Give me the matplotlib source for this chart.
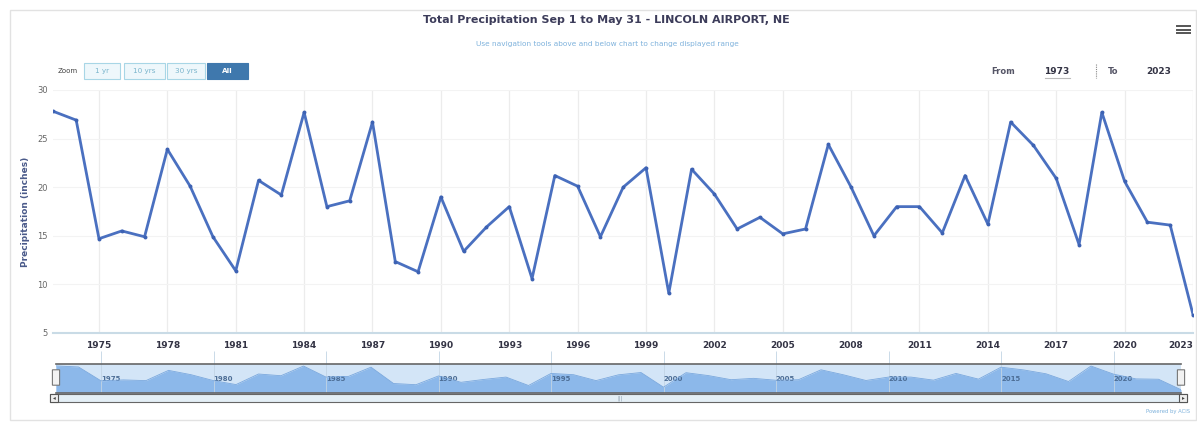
import matplotlib
matplotlib.use("Agg")
import matplotlib.pyplot as plt
from matplotlib.patches import Rectangle, FancyBboxPatch
import numpy as np

years = list(range(1973, 2024))
precip = [27.8, 26.9, 14.7, 15.5, 14.9, 23.9, 20.1, 14.9, 11.4, 20.7,
          19.2, 27.7, 18.0, 18.6, 26.7, 12.35, 11.3, 19.0, 13.4, 15.9,
          18.0, 10.6, 21.2, 20.1, 14.9, 20.0, 22.0, 9.1, 21.85, 19.3,
          15.7, 16.9, 15.2, 15.7, 24.4, 20.0, 15.0, 18.0, 18.0, 15.3,
          21.2, 16.2, 26.7, 24.3, 20.9, 14.1, 27.7, 20.6, 16.4, 16.1, 6.9]
x_ticks = list(range(1975, 2024, 3))
y_ticks = [5, 10, 15, 20, 25, 30]
nav_ticks = list(range(1975, 2021, 5))
buttons = ["1 yr", "10 yrs", "30 yrs", "All"]

title = "Total Precipitation Sep 1 to May 31 - LINCOLN AIRPORT, NE"
subtitle = "Use navigation tools above and below chart to change displayed range"

W, H = 1197, 424
fig = plt.figure(figsize=(W / 100, H / 100), dpi=100)
fig.patch.set_facecolor("white")

def fx(px):
    return px / W

def fy(py):
    return 1 - py / H

# outer border
fig.patches.append(Rectangle((fx(10), fy(420)), fx(1196) - fx(10), fy(10) - fy(420),
                             transform=fig.transFigure, fill=False,
                             edgecolor="#e2e2e2", linewidth=1.0))

# main axes
ax = fig.add_axes([fx(53.4), fy(333), fx(1193) - fx(53.4), fy(90) - fy(333)])
ax.plot(years, precip, color="#4a70c0", linewidth=2.0, marker="o", markersize=2.8,
        markerfacecolor="#3d62b3", markeredgewidth=0, zorder=3)
ax.set_xlim(1973, 2023)
ax.set_ylim(5, 30)
ax.set_xticks(x_ticks)
ax.set_xticklabels([str(t) for t in x_ticks], fontsize=6.5, color="#333344", fontweight="bold")
xl = ax.get_xticklabels()
xl[-1].set_horizontalalignment("right")
ax.set_yticks(y_ticks)
ax.set_yticklabels([str(t) for t in y_ticks], fontsize=6, color="#666666")
ax.tick_params(axis="x", length=0, pad=6)
ax.tick_params(axis="y", length=0, pad=4)
ax.grid(axis="x", color="#ececec", linewidth=0.9)
ax.grid(axis="y", color="#f3f3f3", linewidth=0.8)
for s in ["top", "right", "left"]:
    ax.spines[s].set_visible(False)
ax.spines["bottom"].set_color("#c9dbe6")
ax.spines["bottom"].set_linewidth(1.5)
ax.set_ylabel("Precipitation (inches)", fontsize=6.5, color="#4a5a8a", fontweight="bold")
ax.yaxis.set_label_coords((30 - 53.4) / (1193 - 53.4), 0.5)

# title & subtitle
fig.text(fx(606), fy(20), title, ha="center", va="center", fontsize=8.0,
         color="#3c3c5a", fontweight="semibold")
fig.text(fx(607), fy(44), subtitle, ha="center", va="center", fontsize=5.3, color="#7fb2dc")

# hamburger
for yy in (26, 29.5, 33):
    fig.add_artist(plt.Line2D([fx(1177), fx(1190)], [fy(yy), fy(yy)], color="#555555",
                              linewidth=1.4, transform=fig.transFigure))

# range selector
fig.text(fx(68), fy(71), "Zoom", ha="center", va="center", fontsize=5, color="#444444")
btn_x = [(84, 120), (124, 165), (167, 205), (207, 248)]
for (x0, x1), lab in zip(btn_x, buttons):
    active = lab == "All"
    fig.patches.append(Rectangle((fx(x0), fy(79)), fx(x1) - fx(x0), fy(63) - fy(79),
                                 transform=fig.transFigure,
                                 facecolor="#3f78ad" if active else "#eef7fb",
                                 edgecolor="#3f78ad" if active else "#a8d6e6",
                                 linewidth=0.8))
    fig.text(fx((x0 + x1) / 2), fy(71), lab, ha="center", va="center", fontsize=5.2,
             color="white" if active else "#7ab5cc", fontweight="bold" if active else "normal")

# From / To
fig.text(fx(1003), fy(71), "From", ha="center", va="center", fontsize=6, color="#555566", fontweight="bold")
fig.text(fx(1057), fy(71), "1973", ha="center", va="center", fontsize=6.5, color="#333344", fontweight="bold")
fig.add_artist(plt.Line2D([fx(1045), fx(1070)], [fy(78), fy(78)], color="#bbbbbb",
                          linewidth=0.8, transform=fig.transFigure))
fig.add_artist(plt.Line2D([fx(1096), fx(1096)], [fy(64), fy(78)], color="#888888",
                          linewidth=0.8, linestyle=(0, (1, 1)), transform=fig.transFigure))
fig.text(fx(1113), fy(71), "To", ha="center", va="center", fontsize=6, color="#555566", fontweight="bold")
fig.text(fx(1159), fy(71), "2023", ha="center", va="center", fontsize=6.5, color="#333344", fontweight="bold")

# navigator
nav = fig.add_axes([fx(56), fy(393), fx(1181) - fx(56), fy(364) - fy(393)])
nav.set_facecolor("#d3e5f7")
nav.fill_between(years, precip, 4.0, color="#8cb8ea", linewidth=0)
nav.plot(years, precip, color="#7aa8de", linewidth=0.6)
nav.set_xlim(1973, 2023)
nav.set_ylim(4.0, 29.5)
nav.set_yticks([])
nav.set_xticks(nav_ticks)
nav.set_xticklabels([str(t) for t in nav_ticks], fontsize=5, color="#4d6e96", fontweight="bold")
nav.tick_params(axis="x", direction="in", length=30, color="#c2d4e4", width=0.6, pad=-12)
for lab in nav.get_xticklabels():
    lab.set_horizontalalignment("left")
for s in ["left", "right"]:
    nav.spines[s].set_visible(False)
nav.spines["top"].set_color("#666666")
nav.spines["bottom"].set_color("#666666")
nav.spines["top"].set_linewidth(1.2)
nav.spines["bottom"].set_linewidth(1.2)

# navigator handles
for hx in (56, 1181):
    fig.patches.append(FancyBboxPatch((fx(hx - 3), fy(385)), fx(6), fy(370) - fy(385),
                                      boxstyle="round,pad=0.0005", transform=fig.transFigure,
                                      facecolor="#f2f2f2", edgecolor="#777777", linewidth=0.8))

# scrollbar
fig.patches.append(Rectangle((fx(50), fy(402)), fx(1187) - fx(50), fy(394) - fy(402),
                             transform=fig.transFigure, facecolor="#e4eff6",
                             edgecolor="#666666", linewidth=0.8))
for bx in (50, 1179):
    fig.patches.append(Rectangle((fx(bx), fy(402)), fx(8), fy(394) - fy(402),
                                 transform=fig.transFigure, facecolor="#eeeeee",
                                 edgecolor="#555555", linewidth=0.8))
fig.text(fx(54), fy(398), "\u25c2", ha="center", va="center", fontsize=4, color="#444444")
fig.text(fx(1183), fy(398), "\u25b8", ha="center", va="center", fontsize=4, color="#444444")
fig.text(fx(620), fy(398), "|||", ha="center", va="center", fontsize=3.5, color="#8899aa")

fig.text(fx(1190), fy(412), "Powered by ACIS", ha="right", va="center", fontsize=3.8, color="#7fb2dc")

fig.savefig("out.png", dpi=100, facecolor="white")
